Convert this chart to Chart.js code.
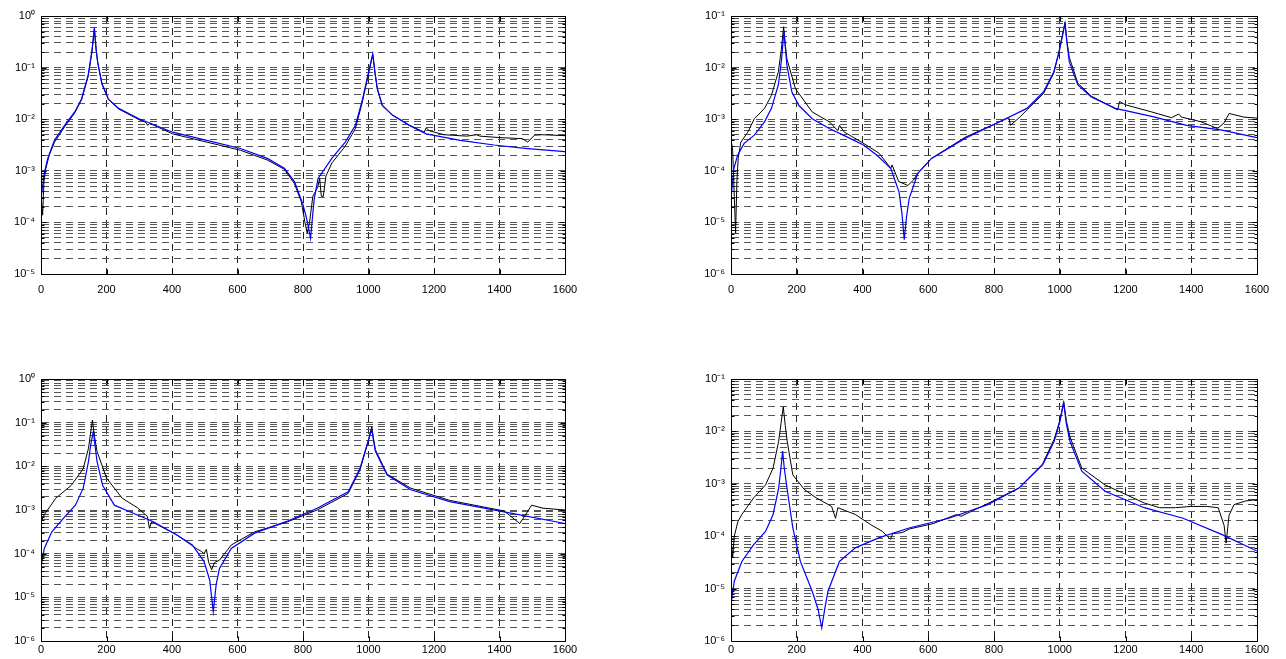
<!DOCTYPE html>
<html><head><meta charset="utf-8">
<script src="https://cdn.jsdelivr.net/npm/chart.js@4.4.1/dist/chart.umd.min.js"></script>
<style>
html,body{margin:0;padding:0;background:#fff;width:1286px;height:659px;overflow:hidden;}
canvas{position:absolute;}
</style></head><body>
<canvas id="tl" width="590" height="300" style="left:0px;top:0px"></canvas>
<canvas id="tr" width="592" height="300" style="left:690px;top:0px"></canvas>
<canvas id="bl" width="590" height="304" style="left:0px;top:355px"></canvas>
<canvas id="br" width="592" height="304" style="left:690px;top:355px"></canvas>
<script>
// x tick labels (Hz)
const xTickValues = [0,200,400,600,800,1000,1200,1400,1600];
// y decades (exponents) per panel
const tlDecades = [-5,-4,-3,-2,-1,0];
const trDecades = [-6,-5,-4,-3,-2,-1];
const blDecades = [-6,-5,-4,-3,-2,-1,0];
const brDecades = [-6,-5,-4,-3,-2,-1];

// ---- top-left panel ----
const tlBlueF = [0,10,20,41,72,103,124,144,155,163,168,173,186,206,237,299,402,506,609,691,743,774,800,812,823,834,846,888,929,960,980,996,1013,1020,1027,1042,1073,1125,1176,1280,1383,1486,1600];
const tlBlueV = [2.9e-4,8.9e-4,1.7e-3,3.9e-3,7.6e-3,1.38e-2,2.5e-2,7.1e-2,0.20,0.59,0.24,0.129,4.9e-2,2.45e-2,1.62e-2,1.02e-2,5.6e-3,3.9e-3,2.7e-3,1.74e-3,1.12e-3,6.2e-4,2.2e-4,1.12e-4,4.9e-5,2.8e-4,7.1e-4,1.74e-3,3.6e-3,7.6e-3,2.2e-2,6.2e-2,0.186,7.9e-2,3.9e-2,1.86e-2,1.2e-2,7.6e-3,5.2e-3,3.9e-3,3.16e-3,2.7e-3,2.35e-3];
const tlBlackF = [0,5,9,15,25,41,72,103,124,144,155,163,168,173,186,206,237,299,320,326,332,402,506,609,691,743,774,795,806,813,820,830,845,851,856,862,870,888,929,960,980,996,1013,1020,1027,1042,1073,1125,1170,1176,1185,1230,1300,1330,1340,1400,1470,1486,1507,1530,1600];
const tlBlackV = [3.5e-4,1.38e-4,6.3e-4,1.12e-3,2.0e-3,3.55e-3,7.1e-3,1.32e-2,2.4e-2,6.8e-2,0.19,0.55,0.23,0.126,4.8e-2,2.4e-2,1.58e-2,9.8e-3,8.7e-3,7.6e-3,8.3e-3,5.2e-3,3.6e-3,2.5e-3,1.62e-3,1.07e-3,5.6e-4,2.5e-4,1.0e-4,6.2e-5,1.0e-4,3.2e-4,4.8e-4,7.1e-4,3.2e-4,3.2e-4,7.9e-4,1.41e-3,3.0e-3,6.6e-3,2.0e-2,5.8e-2,0.178,7.6e-2,3.8e-2,1.82e-2,1.2e-2,7.6e-3,5.6e-3,6.8e-3,6.0e-3,5.0e-3,4.7e-3,5.0e-3,4.7e-3,4.4e-3,4.2e-3,3.6e-3,4.9e-3,5.0e-3,4.8e-3];

// ---- top-right panel ----
const trBlueF = [0,9,20,40,71,102,123,144,154,161,166,170,185,206,247,299,351,403,444,486,511,520,527,534,542,568,610,713,817,900,951,982,998,1016,1022,1029,1055,1096,1169,1283,1386,1490,1600];
const trBlueV = [2.9e-5,1.12e-4,2.0e-4,3.4e-4,4.9e-4,8.9e-4,1.62e-3,4.6e-3,1.48e-2,5.2e-2,2.2e-2,1.12e-2,3.4e-3,1.86e-3,1.02e-3,6.6e-4,4.6e-4,3.16e-4,2.0e-4,1.12e-4,3.9e-5,1.5e-5,4.6e-6,1.3e-5,2.9e-5,8.9e-5,1.74e-4,4.3e-4,8.9e-4,1.62e-3,3.4e-3,8.3e-3,2.0e-2,7.1e-2,3.0e-2,1.29e-2,4.6e-3,2.7e-3,1.62e-3,1.12e-3,7.6e-4,6.2e-4,4.4e-4];
const trBlackF = [0,5,10,14,18,22,30,51,71,102,123,144,153,160,165,170,196,247,299,325,330,345,400,450,480,486,490,510,538,555,568,610,713,817,845,850,880,900,951,982,998,1016,1022,1029,1055,1096,1140,1176,1182,1200,1280,1340,1362,1370,1430,1480,1500,1515,1560,1600];
const trBlackV = [4.3e-4,2.5e-4,3.2e-5,6.2e-6,6.3e-5,1.78e-4,3.6e-4,5.6e-4,1.02e-3,1.62e-3,2.9e-3,8.3e-3,2.2e-2,6.2e-2,2.8e-2,1.48e-2,3.9e-3,1.38e-3,8.9e-4,6.0e-4,7.6e-4,5.6e-4,3.5e-4,2.2e-4,1.26e-4,1.12e-4,1.3e-4,6.2e-5,5.2e-5,6.6e-5,8.9e-5,1.74e-4,4.5e-4,8.9e-4,1.07e-3,7.6e-4,1.12e-3,1.51e-3,3.16e-3,7.9e-3,2.1e-2,7.6e-2,3.2e-2,1.58e-2,5.0e-3,2.8e-3,2.0e-3,1.51e-3,2.2e-3,1.9e-3,1.38e-3,1.07e-3,1.26e-3,1.1e-3,8.9e-4,6.6e-4,8.5e-4,1.29e-3,1.1e-3,1.05e-3];

// ---- bottom-left panel ----
const blBlueF = [0,10,33,69,105,129,145,152,160,165,171,188,224,271,343,414,462,498,515,526,535,545,581,652,748,843,938,974,998,1010,1015,1021,1057,1129,1248,1414,1600];
const blBlueV = [5.0e-5,1.32e-4,3.16e-4,6.5e-4,1.29e-3,3.16e-3,1.29e-2,3.2e-2,6.3e-2,3.0e-2,1.29e-2,3.7e-3,1.29e-3,9.1e-4,5.4e-4,2.7e-4,1.58e-4,6.6e-5,2.5e-5,4.7e-6,2.0e-5,4.6e-5,1.32e-4,2.95e-4,5.4e-4,1.1e-3,2.6e-3,8.9e-3,3.6e-2,7.1e-2,4.0e-2,2.2e-2,6.3e-3,2.9e-3,1.55e-3,9.1e-4,4.9e-4];
const blBlackF = [0,10,45,93,129,145,157,164,171,200,248,295,325,331,338,414,474,490,498,505,512,521,530,545,581,652,748,843,938,974,998,1010,1015,1021,1057,1129,1248,1414,1462,1480,1498,1533,1600];
const blBlackV = [5.4e-4,7.8e-4,1.86e-3,3.7e-3,8.9e-3,2.6e-2,0.115,4.5e-2,2.2e-2,5.4e-3,1.86e-3,1.12e-3,7.1e-4,3.8e-4,5.4e-4,2.7e-4,1.32e-4,1.12e-4,1.0e-4,1.26e-4,6.3e-5,4.3e-5,6.3e-5,7.1e-5,1.58e-4,3.16e-4,5.2e-4,1.0e-3,2.4e-3,8.3e-3,3.5e-2,8.1e-2,4.5e-2,2.4e-2,6.6e-3,3.16e-3,1.66e-3,9.5e-4,4.9e-4,7.9e-4,1.29e-3,1.1e-3,1.0e-3];

// ---- bottom-right panel ----
const brBlueF = [0,10,33,69,105,128,145,152,157,162,169,188,211,247,265,276,285,295,330,378,449,544,663,781,876,948,983,1000,1012,1020,1031,1067,1138,1257,1375,1494,1600];
const brBlueV = [5.0e-6,1.38e-5,3.3e-5,6.9e-5,1.23e-4,2.6e-4,8.3e-4,2.0e-3,4.2e-3,2.0e-3,9.5e-4,1.45e-4,3.3e-5,8.9e-6,4.0e-6,1.78e-6,4.0e-6,8.9e-6,3.3e-5,6.0e-5,9.3e-5,1.45e-4,2.2e-4,4.0e-4,8.3e-4,2.3e-3,6.5e-3,1.5e-2,3.5e-2,1.4e-2,6.5e-3,1.74e-3,7.2e-4,3.5e-4,2.2e-4,1.07e-4,5.2e-5];
const brBlackF = [0,5,10,21,33,69,105,128,145,152,159,165,171,188,223,259,306,318,325,378,425,461,485,492,520,544,615,686,700,781,876,948,983,1000,1012,1020,1031,1067,1138,1257,1304,1352,1399,1447,1482,1500,1506,1515,1530,1565,1600];
const brBlackV = [9.3e-5,3.9e-5,1.0e-4,1.9e-4,2.6e-4,5.4e-4,9.5e-4,2.0e-3,6.5e-3,1.4e-2,2.95e-2,1.3e-2,6.5e-3,1.48e-3,7.8e-4,5.4e-4,3.7e-4,2.2e-4,3.5e-4,2.6e-4,1.66e-4,1.23e-4,8.7e-5,1.12e-4,1.17e-4,1.38e-4,1.74e-4,2.6e-4,2.4e-4,4.2e-4,8.3e-4,2.4e-3,7.1e-3,1.6e-2,3.7e-2,1.6e-2,7.9e-3,2.0e-3,9.5e-4,4.3e-4,3.5e-4,3.5e-4,3.7e-4,3.7e-4,3.5e-4,1.6e-4,7.4e-5,2.5e-4,4.0e-4,4.7e-4,5.0e-4];

Chart.defaults.font.family = "'Liberation Sans', Arial, Helvetica, sans-serif";
Chart.defaults.font.size = 11;
Chart.defaults.color = '#000';

const SUP = {'-':'\u207B','0':'\u2070','1':'\u00B9','2':'\u00B2','3':'\u00B3','4':'\u2074','5':'\u2075','6':'\u2076','7':'\u2077','8':'\u2078','9':'\u2079'};
function expLabel(v){
  const e = Math.log10(v);
  const r = Math.round(e);
  if (Math.abs(e - r) > 1e-6) return '';
  return '10' + String(r).split('').map(c => SUP[c]).join('');
}
function logTicks(decades){
  const t = [];
  for (let i = 0; i < decades.length - 1; i++) {
    const base = Math.pow(10, decades[i]);
    for (let k = 1; k <= 9; k++) t.push({value: k * base});
  }
  t.push({value: Math.pow(10, decades[decades.length - 1])});
  return t;
}
function isMajor(v){ const e = Math.log10(v); return Math.abs(e - Math.round(e)) < 1e-6; }

const framePlugin = {
  id: 'frame',
  afterDraw(chart){
    const {ctx, chartArea: a, scales: {x, y}} = chart;
    ctx.save();
    ctx.strokeStyle = '#000';
    ctx.lineWidth = 1;
    ctx.setLineDash([]);
    const L = Math.round(a.left) + 0.5, R = Math.round(a.right) + 0.5;
    const T = Math.round(a.top) + 0.5, B = Math.round(a.bottom) + 0.5;
    ctx.beginPath();
    ctx.moveTo(L, T); ctx.lineTo(R, T); ctx.lineTo(R, B); ctx.lineTo(L, B); ctx.closePath();
    x.ticks.forEach(t => {
      const px = Math.round(x.getPixelForValue(t.value)) + 0.5;
      ctx.moveTo(px, B); ctx.lineTo(px, B - 5);
      ctx.moveTo(px, T); ctx.lineTo(px, T + 5);
    });
    y.ticks.forEach(t => {
      const py = Math.round(y.getPixelForValue(t.value)) + 0.5;
      const len = isMajor(t.value) ? 5 : 3;
      ctx.moveTo(L, py); ctx.lineTo(L + len, py);
      ctx.moveTo(R, py); ctx.lineTo(R - len, py);
    });
    ctx.stroke();
    ctx.restore();
  }
};

function panel(id, decades, blackF, blackV, blueF, blueV, opt){
  const pts = (f, v) => f.map((x, i) => ({x: x, y: v[i]}));
  new Chart(document.getElementById(id), {
    type: 'line',
    data: {
      datasets: [
        {data: pts(blueF, blueV), borderColor: '#0000ff', borderWidth: 1.2, pointRadius: 0, tension: 0, fill: false},
        {data: pts(blackF, blackV), borderColor: '#000000', borderWidth: 1, pointRadius: 0, tension: 0, fill: false}
      ]
    },
    options: {
      responsive: false,
      animation: false,
      devicePixelRatio: 1,
      events: [],
      layout: {padding: {top: opt.top, right: opt.right, left: 0, bottom: 0}},
      plugins: {legend: {display: false}, tooltip: {enabled: false}},
      scales: {
        x: {
          type: 'linear', min: 0, max: 1600,
          afterBuildTicks: s => { s.ticks = xTickValues.map(v => ({value: v})); },
          afterFit: s => { s.height = opt.xh; },
          ticks: {autoSkip: false, maxRotation: 0, padding: opt.xpad, font: {size: 11}, callback: v => String(v)},
          grid: {color: '#222', lineWidth: 1, drawTicks: false},
          border: {display: true, color: '#000', dash: [7, 5]}
        },
        y: {
          type: 'logarithmic',
          min: Math.pow(10, decades[0]), max: Math.pow(10, decades[decades.length - 1]),
          afterBuildTicks: s => { s.ticks = logTicks(decades); },
          afterFit: s => { s.width = opt.yw; },
          ticks: {autoSkip: false, padding: 6, font: {size: 11}, callback: v => expLabel(v)},
          grid: {color: '#555', lineWidth: 1, drawTicks: false},
          border: {display: true, color: '#000', dash: [7, 5]}
        }
      }
    },
    plugins: [framePlugin]
  });
}

panel('tl', tlDecades, tlBlackF, tlBlackV, tlBlueF, tlBlueV, {top: 16, right: 25, yw: 41, xh: 26, xpad: 9});
panel('tr', trDecades, trBlackF, trBlackV, trBlueF, trBlueV, {top: 16, right: 25, yw: 41, xh: 26, xpad: 9});
panel('bl', blDecades, blBlackF, blBlackV, blBlueF, blBlueV, {top: 24, right: 25, yw: 41, xh: 18, xpad: 2});
panel('br', brDecades, brBlackF, brBlackV, brBlueF, brBlueV, {top: 24, right: 25, yw: 41, xh: 18, xpad: 2});
</script>
</body></html>
